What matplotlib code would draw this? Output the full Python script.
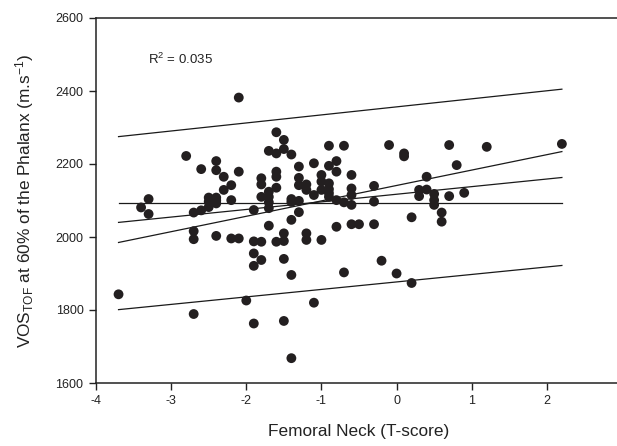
import matplotlib
matplotlib.use("Agg")
import matplotlib.pyplot as plt
import numpy as np

plt.rcParams['font.family'] = ['Liberation Sans', 'DejaVu Sans']
plt.rcParams['mathtext.default'] = 'regular'

# Scatter data: femoral neck T-score vs VOS_TOF (m/s)
t_score = [
    -3.7,
    -3.4,
    -3.3, -3.3,
    -2.8,
    -2.7, -2.7, -2.7, -2.7,
    -2.6, -2.6,
    -2.5, -2.5, -2.5,
    -2.4, -2.4, -2.4, -2.4, -2.4, -2.4,
    -2.3, -2.3,
    -2.2, -2.2, -2.2,
    -2.1, -2.1, -2.1,
    -2.0,
    -1.9, -1.9, -1.9, -1.9, -1.9,
    -1.8, -1.8, -1.8, -1.8, -1.8,
    -1.7, -1.7, -1.7, -1.7, -1.7, -1.7,
    -1.6, -1.6, -1.6, -1.6, -1.6, -1.6,
    -1.5, -1.5, -1.5, -1.5, -1.5, -1.5,
    -1.4, -1.4, -1.4, -1.4, -1.4, -1.4,
    -1.3, -1.3, -1.3, -1.3, -1.3,
    -1.2, -1.2, -1.2, -1.2,
    -1.1, -1.1, -1.1,
    -1.0, -1.0, -1.0, -1.0,
    -0.9, -0.9, -0.9, -0.9, -0.9, -0.9,
    -0.8, -0.8, -0.8, -0.8,
    -0.7, -0.7, -0.7,
    -0.6, -0.6, -0.6, -0.6, -0.6,
    -0.5,
    -0.3, -0.3, -0.3,
    -0.2,
    -0.1,
    0.0,
    0.1, 0.1,
    0.2, 0.2,
    0.3, 0.3,
    0.4, 0.4,
    0.5, 0.5, 0.5,
    0.6, 0.6,
    0.7, 0.7,
    0.8,
    0.9,
    1.2,
    2.2,
]
vos = [
    1843,
    2081,
    2104, 2063,
    2222,
    2067, 2016, 1994, 1789,
    2186, 2073,
    2082, 2097, 2108,
    2208, 2183, 2092, 2108, 2100, 2003,
    2165, 2129,
    2142, 2101, 1996,
    2382, 2179, 1996,
    1826,
    2074, 1988, 1955, 1921, 1763,
    2161, 2144, 2110, 1987, 1937,
    2236, 2124, 2110, 2095, 2079, 2031,
    2287, 2229, 2179, 2165, 2135, 1987,
    2266, 2241, 2010, 1989, 1940, 1770,
    2226, 2104, 2096, 2047, 1896, 1668,
    2193, 2162, 2142, 2099, 2068,
    2144, 2129, 2010, 1992,
    2202, 2115, 1820,
    2170, 2152, 2129, 1992,
    2250, 2195, 2147, 2131, 2120, 2110,
    2208, 2179, 2101, 2028,
    2250, 2095, 1903,
    2170, 2133, 2115, 2088, 2035,
    2035,
    2140, 2097, 2035,
    1935,
    2252,
    1900,
    2229, 2221,
    2054, 1874,
    2129, 2112,
    2165, 2130,
    2118, 2101, 2088,
    2067, 2042,
    2252, 2112,
    2197,
    2121,
    2247,
    2255,
]

# Fitted lines (end points)
line_x = [-3.7, 2.2]
pred_upper = [2275, 2405]
pred_lower = [1801, 1922]
regression = [2040, 2163]
conf_a = [2093, 2093]
conf_b = [1985, 2234]

x_ticks = [-4, -3, -2, -1, 0, 1, 2, 3]
y_ticks = [1600, 1800, 2000, 2200, 2400, 2600]

fig = plt.figure(figsize=(6.17, 4.46), dpi=100)
ax = fig.add_axes([96/617, 63/446, 526/617, 365/446])

for ys in (pred_upper, pred_lower, regression, conf_a, conf_b):
    ax.plot(line_x, ys, color='#1a1a1a', lw=0.9, zorder=2)

ax.scatter(t_score, vos, s=50, color='#231f20', edgecolors='none', zorder=3)

ax.set_xlim(-4, 3)
ax.set_ylim(1600, 2600)
ax.set_xticks(x_ticks)
ax.set_yticks(y_ticks)
ax.set_xticklabels([str(v) for v in x_ticks])
ax.set_yticklabels([str(v) for v in y_ticks])
ax.tick_params(axis='both', direction='out', length=5, width=1, labelsize=9,
               colors='#222222', pad=4)
for side in ('left', 'bottom', 'top', 'right'):
    ax.spines[side].set_linewidth(1.1)
    ax.spines[side].set_color('#222222')

ax.set_xlabel('Femoral Neck (T-score)', fontsize=12.4, color='#222222', labelpad=12)
ax.set_ylabel('VOS$_{TOF}$ at 60% of the Phalanx (m.s$^{-1}$)', fontsize=12.4,
              color='#222222', labelpad=14)

ax.text(-3.31, 2474, 'R$^2$ = 0.035', fontsize=9.5, ha='left', va='baseline',
        color='#222222')

fig.savefig('out.png', dpi=100)
